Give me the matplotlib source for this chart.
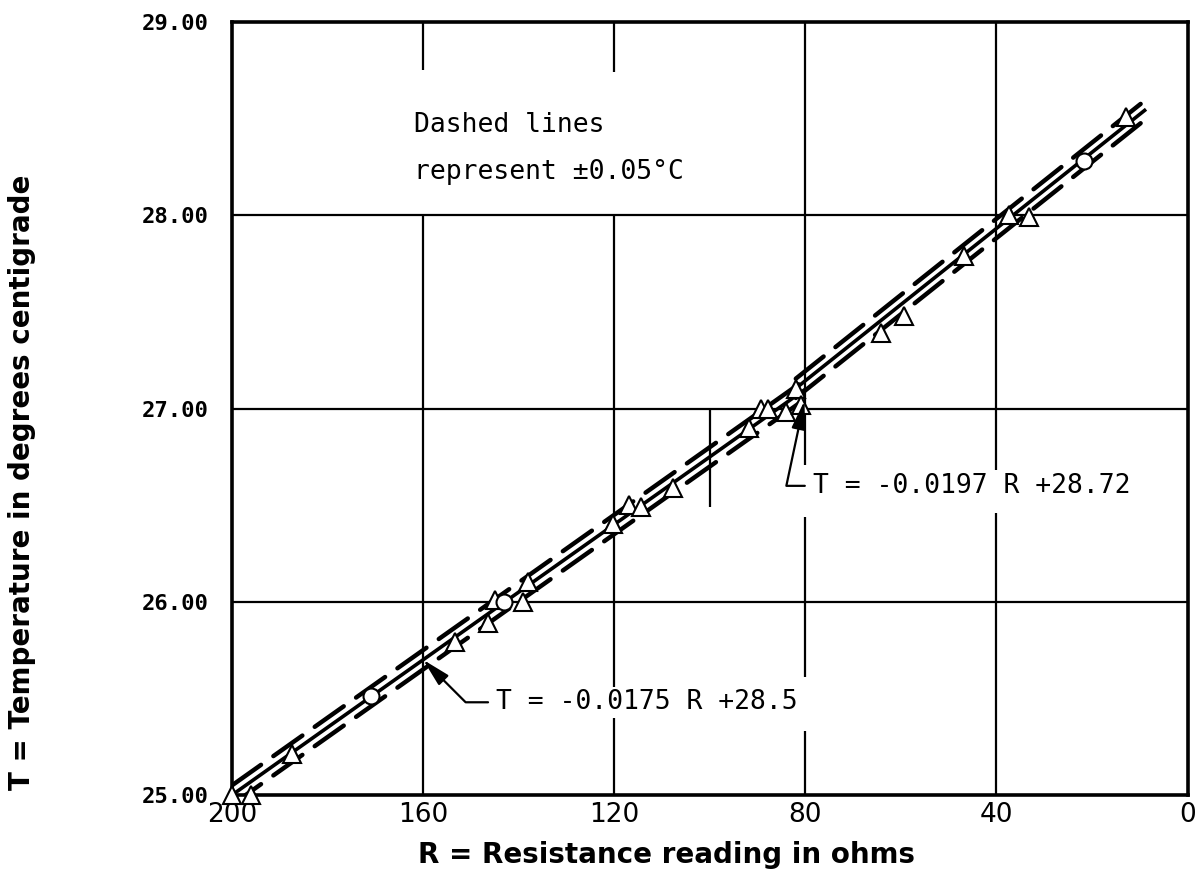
import numpy as np
import matplotlib
matplotlib.use('Agg')
import matplotlib.pyplot as plt

# --- data ---
tri_R = [200, 196, 187.4, 153.3, 146.5, 144.9, 139.2, 138, 120.3, 117, 114.5, 107.8,
         91.8, 89.3, 87.8, 84, 82, 81, 64.2, 59.3, 46.8, 37.3, 33.3, 12.8]
tri_T = [25.0, 25.0, 25.21, 25.79, 25.89, 26.01, 26.0, 26.1, 26.40, 26.5, 26.49, 26.59,
         26.9, 27.0, 27.0, 26.98, 27.1, 27.02, 27.39, 27.48, 27.79, 28.0, 27.99, 28.51]
circ_R = [171, 143, 21.6]
circ_T = [25.51, 26.0, 28.28]

# fitted lines: slope, intercept, R range
fit1 = (-0.0175, 28.5, [200, 80])
fit2 = (-0.0197, 28.72, [82, 9])
band = 0.05

x_ticks = [200, 160, 120, 80, 40, 0]
y_ticks = [25, 26, 27, 28, 29]
y_tick_labels = ['25.00', '26.00', '27.00', '28.00', '29.00']

# vertical grid pieces (broken where text sits)
vgrid_x = [160, 160, 120, 120, 80, 80, 80, 40, 40, 100]
vgrid_lo = [28.75, 25, 28.74, 25, 26.71, 25.61, 25, 26.68, 25, 26.49]
vgrid_hi = [29, 28, 29, 28, 29, 26.44, 25.33, 29, 26.46, 27.0]

fig = plt.figure(figsize=(11.99, 8.92), dpi=100)
ax = fig.add_axes([0.1935, 0.1087, 0.797, 0.8666])

ax.set_xlim(200, 0)
ax.set_ylim(25, 29)

# grid
for y in [26, 27, 28]:
    ax.axhline(y, color='black', lw=1.6, zorder=1)
ax.vlines(vgrid_x, vgrid_lo, vgrid_hi, color='black', lw=1.6, zorder=1)

# fitted lines and +-0.05 bands
for slope, icpt, rng in [fit1, fit2]:
    r = np.array(rng, dtype=float)
    t = slope * r + icpt
    ax.plot(r, t, color='black', lw=2.6, zorder=2)
    for off in (band, -band):
        ax.plot(r, t + off, color='black', lw=3.2, dashes=(8, 3.4),
                dash_capstyle='round', zorder=2)

ax.plot(tri_R, tri_T, linestyle='none', marker='^', markersize=12.5,
        markerfacecolor='white', markeredgecolor='black', markeredgewidth=1.5,
        zorder=4, clip_on=False)
ax.plot(circ_R, circ_T, linestyle='none', marker='o', markersize=11.5,
        markerfacecolor='white', markeredgecolor='black', markeredgewidth=1.5,
        zorder=4, clip_on=False)

# text
ax.text(162, 28.43, 'Dashed lines', family='DejaVu Sans Mono', fontsize=19,
        ha='left', va='baseline')
ax.text(162, 28.19, 'represent \u00b10.05\u00b0C', family='DejaVu Sans Mono',
        fontsize=19, ha='left', va='baseline')

arrow_kw = dict(arrowstyle='-|>,head_length=0.9,head_width=0.22', color='black',
                lw=1.6, shrinkA=4, shrinkB=0)
ax.annotate('T = -0.0197 R +28.72', xy=(80.2, 27.04), xytext=(78.4, 26.60),
            family='DejaVu Sans Mono', fontsize=19, ha='left', va='center',
            bbox=dict(boxstyle='square,pad=0.1', fc='white', ec='none'),
            arrowprops=dict(connectionstyle='angle,angleA=180,angleB=78,rad=0',
                            **arrow_kw), zorder=5)
ax.annotate('T = -0.0175 R +28.5', xy=(160, 25.70), xytext=(144.7, 25.48),
            family='DejaVu Sans Mono', fontsize=19, ha='left', va='center',
            bbox=dict(boxstyle='square,pad=0.1', fc='white', ec='none'),
            arrowprops=dict(connectionstyle='angle,angleA=180,angleB=-45,rad=0',
                            **arrow_kw), zorder=5)

# axes styling
for s in ax.spines.values():
    s.set_linewidth(2.6)
ax.set_xticks(x_ticks)
ax.set_xticklabels([str(v) for v in x_ticks], fontsize=19)
ax.set_yticks(y_ticks)
ax.set_yticklabels(y_tick_labels, family='DejaVu Sans Mono', fontsize=16,
                   fontweight='bold')
ax.tick_params(axis='both', length=0)
ax.tick_params(axis='x', pad=5)
ax.tick_params(axis='y', pad=17)

# axis titles placed as in the scan (off-centre)
fig.text(666 / 1199, 1 - 855 / 892, 'R = Resistance reading in ohms', fontsize=20,
         fontweight='bold', ha='center', va='center')
fig.text(22 / 1199, 1 - 482 / 892, 'T = Temperature in degrees centigrade',
         fontsize=20, fontweight='bold', rotation=90, ha='center', va='center')

fig.savefig('out.png', dpi=100)
